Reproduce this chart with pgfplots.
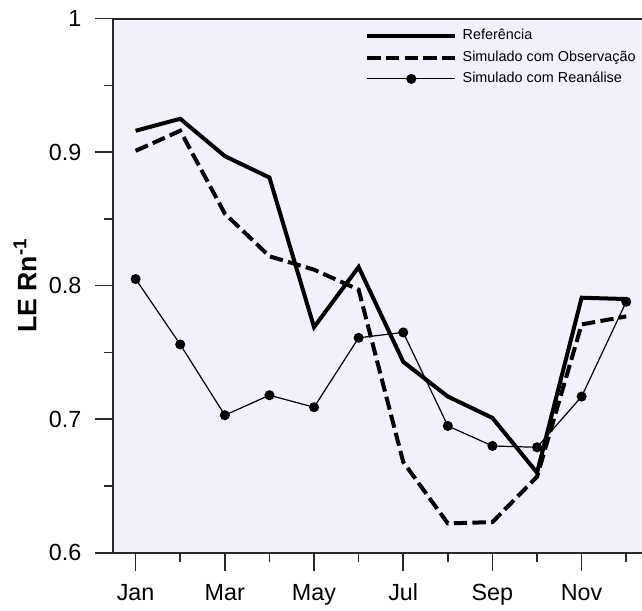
\documentclass[border=0pt]{standalone}
\usepackage{pgfplots}
\pgfplotsset{compat=1.18}
\usepackage{fontspec}
\setmainfont{Liberation Sans}
\definecolor{bgc}{RGB}{241,241,252}
\definecolor{axc}{RGB}{40,40,40}
\begin{document}
\begin{tikzpicture}
\useasboundingbox (-85pt,-43pt) rectangle (396.5pt,414.6pt);
\begin{axis}[
  at={(0pt,0pt)}, anchor=south west,
  scale only axis, width=401.4pt, height=400.65pt,
  xmin=-0.5, xmax=11.5, ymin=0.6, ymax=1,
  axis background/.style={fill=bgc},
  axis line style={axc, line width=1.4pt},
  every tick/.style={axc, line width=1.2pt},
  tick align=outside,
  major tick length=13.5pt, minor tick length=6.75pt,
  xtick={0,2,4,6,8,10},
  xticklabels={Jan,Mar,May,Jul,Sep,Nov},
  minor xtick={1,3,5,7,9,11},
  ytick={0.6,0.7,0.8,0.9,1},
  yticklabels={0.6,0.7,0.8,0.9,1},
  minor ytick={0.65,0.75,0.85,0.95},
  xtick pos=bottom, ytick pos=left,
  ticklabel style={font=\fontsize{17.5}{20}\selectfont},
  xticklabel style={text height=12.6pt, text depth=3.6pt, yshift=-6pt},
  yticklabel style={xshift=-7pt},
  ylabel={\textbf{LE Rn\textsuperscript{-1}}},
  every axis y label/.style={at={(axis description cs:-0.165,0.5)}, rotate=90, anchor=center, font=\fontsize{20}{23}\selectfont},
  legend style={at={(axis description cs:0,1)}, anchor=north west,
    xshift=188.8pt, yshift=-7pt, draw=none, fill=none, inner sep=0pt,
    font=\fontsize{10.8}{12.5}\selectfont, row sep=4pt,
    nodes={inner sep=1pt, text height=7.8pt, text depth=2.2pt},
    /tikz/every odd column/.append style={column sep=3pt}},
  legend cell align=left,
  legend image code/.code={\draw[mark repeat=2,mark phase=2,#1] plot coordinates {(0pt,0pt) (33pt,0pt) (66pt,0pt)};},
]
\addplot[black, line width=3pt, line join=miter] coordinates {
 (0,0.916) (1,0.925) (2,0.897) (3,0.881) (4,0.769) (5,0.814)
 (6,0.743) (7,0.717) (8,0.701) (9,0.660) (10,0.791) (11,0.790)};
\addlegendentry{Referência}
\addplot[black, line width=3pt, dash pattern=on 10pt off 4pt] coordinates {
 (0,0.901) (1,0.916) (2,0.854) (3,0.822) (4,0.812) (5,0.797)
 (6,0.668) (7,0.622) (8,0.623) (9,0.657) (10,0.771) (11,0.777)};
\addlegendentry{Simulado com Observação}
\addplot[black, line width=0.9pt, mark=*, mark size=3.3pt] coordinates {
 (0,0.805) (1,0.756) (2,0.703) (3,0.718) (4,0.709) (5,0.761)
 (6,0.765) (7,0.695) (8,0.680) (9,0.679) (10,0.717) (11,0.788)};
\addlegendentry{Simulado com Reanálise}
\end{axis}
\end{tikzpicture}
\end{document}
